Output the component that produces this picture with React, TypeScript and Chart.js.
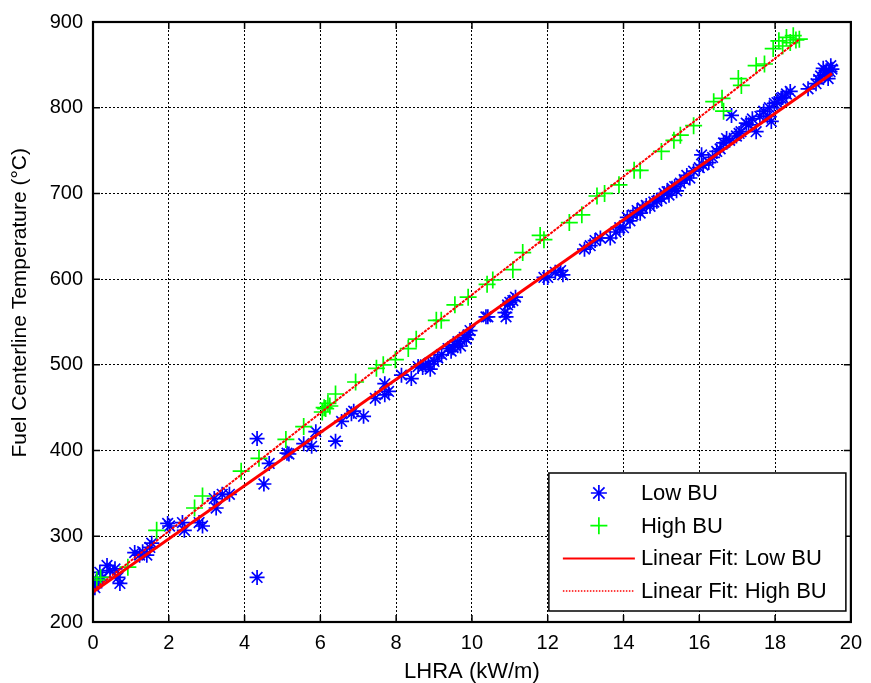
import React, { useEffect, useRef } from "react";
import { Chart, registerables } from "chart.js";

Chart.register(...registerables);

// ---------- data ----------
const lowBuX = [
  0.0, 0.02, 0.05, 0.08, 0.18, 0.25, 0.37, 0.45, 0.58, 0.66, 0.71,
  1.10, 1.23, 1.31, 1.42, 1.50, 1.55, 1.97, 2.02, 2.36, 2.41, 2.80, 2.89,
  3.20, 3.25, 3.41, 3.60, 4.33, 4.33, 4.51, 4.65, 5.12, 5.17, 5.56, 5.77, 5.88,
  6.40, 6.56, 6.82, 6.88, 7.14, 7.45, 7.70, 7.80, 7.70, 8.14, 8.40, 8.58, 8.70,
  8.77, 8.85, 8.90, 9.00, 9.10, 9.20, 9.37, 9.45, 9.50, 9.55, 9.63, 9.70, 9.80,
  9.85, 9.90, 9.95, 10.37, 10.42, 10.87, 10.94, 10.90, 11.00, 11.08, 11.15,
  11.90, 12.00, 12.20, 12.34, 12.40, 12.97, 13.12, 13.25, 13.39, 13.65, 13.80,
  13.90, 14.00, 14.10, 14.17, 14.25, 14.36, 14.44, 14.50, 14.60, 14.70, 14.80,
  14.88, 15.00, 15.07, 15.15, 15.20, 15.28, 15.35, 15.40, 15.50, 15.60, 15.67,
  15.75, 15.85, 16.00, 16.06, 16.10, 16.25, 16.35, 16.46, 16.55, 16.64, 16.72,
  16.80, 16.85, 16.98, 17.05, 17.10, 17.24, 17.30, 17.40, 17.50, 17.60, 17.70,
  17.80, 17.85, 17.90, 17.98, 18.05, 18.16, 18.20, 18.30, 18.40, 18.87, 19.08,
  19.15, 19.20, 19.27, 19.30, 19.35, 19.40, 19.45, 19.47, 19.50,
];
const lowBuY = [
  245, 243, 240, 247, 258, 252, 266, 260, 262, 252, 245,
  281, 278, 282, 278, 287, 292, 315, 312, 316, 307, 316, 312,
  344, 333, 349, 349, 414, 252, 361, 385, 397, 396, 408, 405, 422,
  411, 434, 443, 446, 440, 461, 465, 469, 478, 488, 484, 498, 497,
  500, 501, 495, 504, 508, 512, 519, 516, 520, 523, 527, 522, 532,
  530, 535, 540, 556, 556, 561, 570, 556, 573, 575, 579,
  602, 602, 608, 610, 605, 635, 639, 645, 648, 648, 655,
  660, 660, 672, 668, 675, 680, 677, 683, 686, 685, 690,
  691, 694, 700, 702, 698, 706, 708, 703, 712, 716, 721,
  718, 726, 730, 745, 733, 736, 742, 749, 752, 759, 764,
  762, 791, 767, 770, 772, 782, 780, 787, 772, 790, 796,
  790, 800, 784, 805, 806, 811, 812, 816, 819, 822, 828,
  833, 837, 846, 838, 843, 834, 842, 849, 845,
];
const highBuX = [
  0.10, 0.20, 0.92, 1.68, 2.68, 2.89, 3.91, 4.38, 5.09, 5.56, 6.05, 6.10, 6.14,
  6.20, 6.25, 6.40, 6.93, 7.48, 7.66, 7.98, 8.32, 8.53, 9.06, 9.19, 9.55, 9.90,
  10.40, 10.55, 11.08, 11.34, 11.80, 11.90, 12.57, 12.90, 13.30, 13.50, 13.88,
  14.28, 14.44, 15.00, 15.33, 15.50, 15.85, 16.38, 16.60, 16.64, 17.03, 17.11,
  17.50, 17.72, 17.95, 18.10, 18.20, 18.30, 18.40, 18.48, 18.55, 18.64,
];
const highBuY = [
  249, 252, 264, 307, 333, 347, 376, 391, 413, 428, 445, 450, 449,
  455, 452, 466, 480, 496, 500, 506, 519, 530, 552, 552, 570, 579,
  594, 599, 611, 631, 651, 646, 666, 675, 697, 700, 710,
  727, 727, 749, 762, 768, 779, 807, 811, 796, 834, 826,
  849, 851, 869, 878, 872, 882, 876, 884, 879, 880,
];
const lowFitX = [0, 19.5];
const lowFitY = [235, 840];
const highFitX = [0, 18.65];
const highFitY = [237, 880];

const xTicks = [0, 2, 4, 6, 8, 10, 12, 14, 16, 18, 20];
const yTicks = [200, 300, 400, 500, 600, 700, 800, 900];
const seriesNames = ["Low BU", "High BU", "Linear Fit: Low BU", "Linear Fit: High BU"];
const xTitle = "LHRA (kW/m)";
const yTitle = "Fuel Centerline Temperature (°C)";

const FONT = "'Liberation Sans', Arial, Helvetica, sans-serif";
const BLUE = "#0000ff";
const GREEN = "#00ff00";
const RED = "#ff0000";

const toPoints = (xs: number[], ys: number[]) => xs.map((x, i) => ({ x, y: ys[i] }));

const framePlugin = {
  id: "frame",
  afterDraw(chart: any) {
    const { ctx, chartArea, scales } = chart;
    const { left, right, top, bottom } = chartArea;
    ctx.save();
    ctx.strokeStyle = "#000";
    ctx.setLineDash([]);
    ctx.lineWidth = 1.5;
    const tl = 7;
    ctx.beginPath();
    xTicks.forEach((v) => {
      const px = scales.x.getPixelForValue(v);
      ctx.moveTo(px, bottom);
      ctx.lineTo(px, bottom - tl);
      ctx.moveTo(px, top);
      ctx.lineTo(px, top + tl);
    });
    yTicks.forEach((v) => {
      const py = scales.y.getPixelForValue(v);
      ctx.moveTo(left, py);
      ctx.lineTo(left + tl, py);
      ctx.moveTo(right, py);
      ctx.lineTo(right - tl, py);
    });
    ctx.stroke();
    ctx.lineWidth = 2.2;
    ctx.strokeRect(left, top, right - left, bottom - top);

    // y-axis title
    ctx.save();
    ctx.translate(20, top + (bottom - top) * 0.468);
    ctx.rotate(-Math.PI / 2);
    ctx.font = `21px ${FONT}`;
    ctx.fillStyle = "#000";
    ctx.textAlign = "center";
    ctx.textBaseline = "middle";
    ctx.fillText(yTitle, 0, 0);
    ctx.restore();

    // legend box
    const bw = 297;
    const bh = 138;
    const bx = right - 5 - bw;
    const by = bottom - 11 - bh;
    ctx.fillStyle = "#fff";
    ctx.fillRect(bx, by, bw, bh);
    ctx.lineWidth = 1.5;
    ctx.strokeRect(bx, by, bw, bh);
    const rowH = 32.7;
    const mx = bx + 50;
    ctx.font = `22px ${FONT}`;
    ctx.fillStyle = "#000";
    ctx.textBaseline = "middle";
    ctx.textAlign = "left";
    seriesNames.forEach((name, i) => {
      const cy = by + 20 + i * rowH;
      ctx.save();
      if (i === 0) {
        ctx.strokeStyle = BLUE;
        ctx.lineWidth = 1.7;
        const r = 8;
        ctx.beginPath();
        for (let k = 0; k < 4; k++) {
          const a = (k * Math.PI) / 4;
          ctx.moveTo(mx - r * Math.cos(a), cy - r * Math.sin(a));
          ctx.lineTo(mx + r * Math.cos(a), cy + r * Math.sin(a));
        }
        ctx.stroke();
      } else if (i === 1) {
        ctx.strokeStyle = GREEN;
        ctx.lineWidth = 1.7;
        const r = 8.5;
        ctx.beginPath();
        ctx.moveTo(mx - r, cy);
        ctx.lineTo(mx + r, cy);
        ctx.moveTo(mx, cy - r);
        ctx.lineTo(mx, cy + r);
        ctx.stroke();
      } else {
        ctx.strokeStyle = RED;
        ctx.lineWidth = i === 2 ? 2 : 1.5;
        ctx.setLineDash(i === 2 ? [] : [1.5, 1.5]);
        ctx.beginPath();
        ctx.moveTo(bx + 14, cy);
        ctx.lineTo(bx + 86, cy);
        ctx.stroke();
      }
      ctx.restore();
      ctx.fillText(name, bx + 92, cy + 1);
    });
    ctx.restore();
  },
};

export default function App() {
  const canvasRef = useRef<HTMLCanvasElement | null>(null);

  useEffect(() => {
    const canvas = canvasRef.current;
    if (!canvas) return;
    const chart = new Chart(canvas, {
      type: "scatter",
      data: {
        datasets: [
          {
            label: seriesNames[0],
            data: toPoints(lowBuX, lowBuY),
            pointStyle: "star",
            pointRadius: 7.5,
            borderColor: BLUE,
            backgroundColor: BLUE,
            pointBorderWidth: 1.7,
            showLine: false,
            order: 4,
          },
          {
            label: seriesNames[1],
            data: toPoints(highBuX, highBuY),
            pointStyle: "cross",
            pointRadius: 8.5,
            borderColor: GREEN,
            backgroundColor: GREEN,
            pointBorderWidth: 1.7,
            showLine: false,
            order: 3,
          },
          {
            label: seriesNames[2],
            data: toPoints(lowFitX, lowFitY),
            showLine: true,
            pointRadius: 0,
            borderColor: RED,
            borderWidth: 3,
            order: 2,
          },
          {
            label: seriesNames[3],
            data: toPoints(highFitX, highFitY),
            showLine: true,
            pointRadius: 0,
            borderColor: RED,
            borderWidth: 2,
            borderDash: [3, 1],
            order: 1,
          },
        ],
      },
      options: {
        responsive: false,
        animation: false,
        events: [],
        layout: { padding: { top: 18, right: 16, left: 0, bottom: 0 } },
        plugins: { legend: { display: false }, tooltip: { enabled: false } },
        scales: {
          x: {
            type: "linear",
            min: 0,
            max: 20,
            afterBuildTicks: (s: any) => {
              s.ticks = xTicks.map((v) => ({ value: v }));
            },
            afterFit: (s: any) => {
              s.height = 61;
            },
            grid: { color: "#000", lineWidth: 1, drawTicks: false },
            border: { display: false, dash: [2, 2] },
            ticks: {
              color: "#000",
              padding: 9,
              maxRotation: 0,
              font: { family: FONT, size: 20 },
            },
            title: {
              display: true,
              text: xTitle,
              color: "#000",
              font: { family: FONT, size: 22, lineHeight: 1 },
              padding: { top: 0, bottom: 0 },
            },
          },
          y: {
            type: "linear",
            min: 200,
            max: 900,
            afterBuildTicks: (s: any) => {
              s.ticks = yTicks.map((v) => ({ value: v }));
            },
            afterFit: (s: any) => {
              s.width = 93;
            },
            grid: { color: "#000", lineWidth: 1, drawTicks: false },
            border: { display: false, dash: [2, 2] },
            ticks: {
              color: "#000",
              padding: 10,
              font: { family: FONT, size: 20 },
            },
            title: { display: false },
          },
        },
      },
      plugins: [framePlugin],
    });
    return () => chart.destroy();
  }, []);

  return (
    <div style={{ position: "fixed", left: 0, top: 0, width: 871, height: 683, background: "#fff" }}>
      <canvas ref={canvasRef} width={871} height={683} style={{ display: "block" }} />
    </div>
  );
}
